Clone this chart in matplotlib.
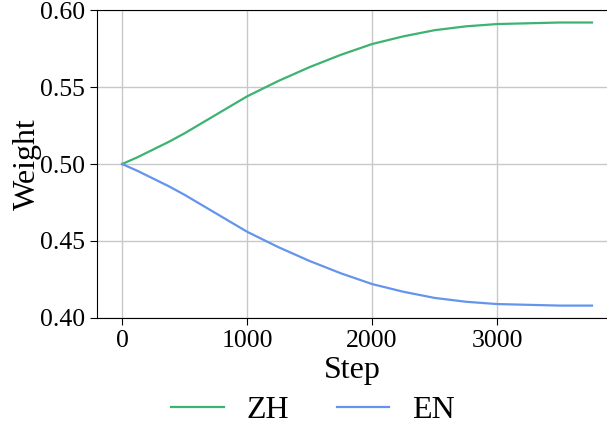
import matplotlib
matplotlib.use("Agg")
import matplotlib.pyplot as plt

steps = [0, 125, 250, 375, 500, 750, 1000, 1250, 1500, 1750, 2000, 2250, 2500, 2750, 3000, 3250, 3500, 3760]
zh_weight = [0.500, 0.5045, 0.5095, 0.5145, 0.520, 0.532, 0.544, 0.554, 0.563, 0.571, 0.578, 0.583, 0.587, 0.5895, 0.591, 0.5915, 0.592, 0.592]
en_weight = [0.500, 0.4955, 0.4905, 0.4855, 0.480, 0.468, 0.456, 0.446, 0.437, 0.429, 0.422, 0.417, 0.413, 0.4105, 0.409, 0.4085, 0.408, 0.408]

plt.rcParams['font.family'] = ['Liberation Serif', 'DejaVu Serif']

fig = plt.figure(figsize=(6.07, 4.25), dpi=100)
ax = fig.add_axes([0.16, 0.252, 0.84, 0.724])

ax.plot(steps, zh_weight, color='#3cb371', linewidth=1.6, label='ZH')
ax.plot(steps, en_weight, color='#6495ed', linewidth=1.6, label='EN')

ax.set_xlim(-200, 3880)
ax.set_ylim(0.40, 0.60)
ax.set_xticks([0, 1000, 2000, 3000])
ax.set_yticks([0.40, 0.45, 0.50, 0.55, 0.60])
ax.set_yticklabels(['0.40', '0.45', '0.50', '0.55', '0.60'])
ax.grid(color='#c8c8c8', linewidth=1.0)
ax.set_axisbelow(True)
ax.spines['right'].set_visible(False)
ax.tick_params(labelsize=18.5, length=5, direction='out')

ax.set_xlabel('Step', fontsize=23, labelpad=3)
ax.set_ylabel('Weight', fontsize=23, labelpad=-1)

fig.legend(loc='center', bbox_to_anchor=(0.515, 0.035),
           ncol=2, frameon=False, fontsize=23, handlelength=1.65,
           columnspacing=1.5, handletextpad=0.7)

fig.savefig('out.png', dpi=100)
